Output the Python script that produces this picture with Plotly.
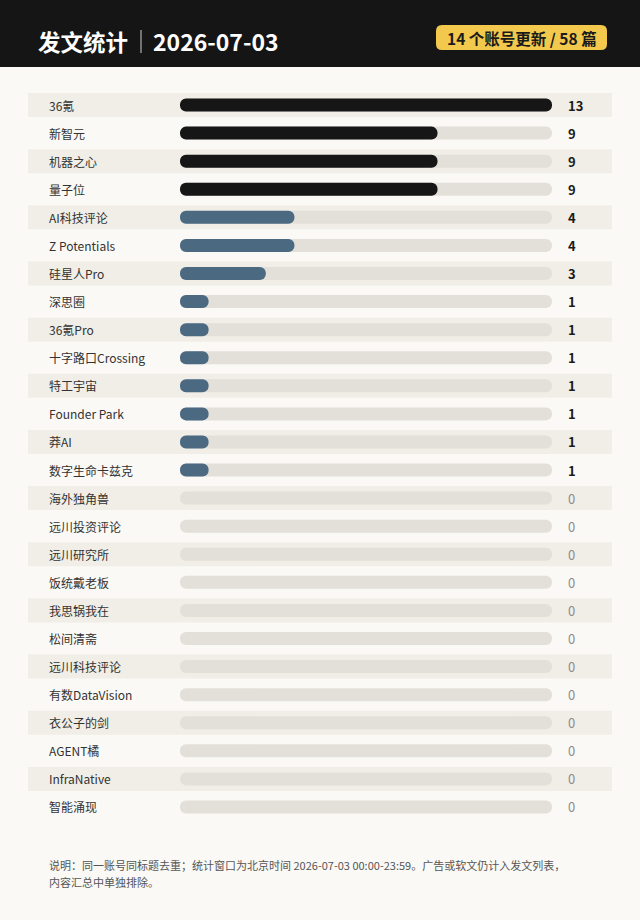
import plotly.graph_objects as go

# ---------------- data ----------------
accounts = ["36氪", "新智元", "机器之心", "量子位", "AI科技评论", "Z Potentials", "硅星人Pro",
            "深思圈", "36氪Pro", "十字路口Crossing", "特工宇宙", "Founder Park", "莽AI",
            "数字生命卡兹克", "海外独角兽", "远川投资评论", "远川研究所", "饭统戴老板",
            "我思锅我在", "松间清斋", "远川科技评论", "有数DataVision", "衣公子的剑",
            "AGENT橘", "InfraNative", "智能涌现"]
posts = [13, 9, 9, 9, 4, 4, 3, 1, 1, 1, 1, 1, 1, 1,
         0, 0, 0, 0, 0, 0, 0, 0, 0, 0, 0, 0]
title_text = "发文统计"
date_text = "2026-07-03"
note_lines = ["说明：同一账号同标题去重；统计窗口为北京时间 2026-07-03 00:00-23:59。广告或软文仍计入发文列表，",
              "内容汇总中单独排除。"]

# ---------------- style ----------------
W, H = 640, 920
BG = "#faf9f6"
STRIPE = "#f0eee6"
TRACK = "#e3e0d9"
DARK = "#161616"
BLUE = "#4b6a82"
FONT = "Noto Sans CJK SC"

def X(px):
    return px / W

def Y(py):
    return 1 - py / H

n = len(accounts)
vmax = max(posts)
n_active = sum(1 for v in posts if v > 0)
total = sum(posts)

bar_px = 13.0
x0_px, x1_px = 180.0, 552.0
row_top_px, row_bot_px = 91.0, 821.0
pitch_px = (row_bot_px - row_top_px) / n
bar_w = bar_px / pitch_px

ys = list(range(n))
bar_colors = [DARK if v >= 5 else BLUE for v in posts]

fig = go.Figure()

# track bars (full scale); explicit base -> both ends rounded
fig.add_trace(go.Bar(
    y=ys, x=[vmax] * n, base=[0] * n, orientation="h",
    width=bar_w, marker=dict(color=TRACK, cornerradius=bar_px / 2, line=dict(width=0)),
    hoverinfo="skip", showlegend=False))

# value bars
act_y = [y for y, v in zip(ys, posts) if v > 0]
act_v = [v for v in posts if v > 0]
act_c = [c for c, v in zip(bar_colors, posts) if v > 0]
fig.add_trace(go.Bar(
    y=act_y, x=act_v, base=[0] * len(act_v), orientation="h",
    width=bar_w, marker=dict(color=act_c, cornerradius=bar_px / 2, line=dict(width=0)),
    hoverinfo="skip", showlegend=False))

shapes = []
annotations = []

# header band
shapes.append(dict(type="rect", xref="paper", yref="paper", x0=0, x1=1, y0=Y(67), y1=1,
                   fillcolor="#151515", line=dict(width=0), layer="below"))
# separator in title
shapes.append(dict(type="line", xref="paper", yref="paper", x0=X(141), x1=X(141), y0=Y(30), y1=Y(53),
                   line=dict(color="#cfcfcf", width=1)))
# badge (rounded rect)
bx0, bx1, by0, by1, rr = 436, 607, 25, 50, 6
path = (f"M {X(bx0+rr)},{Y(by0)} L {X(bx1-rr)},{Y(by0)} "
        f"Q {X(bx1)},{Y(by0)} {X(bx1)},{Y(by0+rr)} L {X(bx1)},{Y(by1-rr)} "
        f"Q {X(bx1)},{Y(by1)} {X(bx1-rr)},{Y(by1)} L {X(bx0+rr)},{Y(by1)} "
        f"Q {X(bx0)},{Y(by1)} {X(bx0)},{Y(by1-rr)} L {X(bx0)},{Y(by0+rr)} "
        f"Q {X(bx0)},{Y(by0)} {X(bx0+rr)},{Y(by0)} Z")
shapes.append(dict(type="path", xref="paper", yref="paper", path=path,
                   fillcolor="#f2c94c", line=dict(width=0)))

# row stripes
for i in range(0, n, 2):
    shapes.append(dict(type="rect", xref="paper", yref="y", x0=X(28), x1=X(612),
                       y0=i - 12 / pitch_px, y1=i + 12 / pitch_px,
                       fillcolor=STRIPE, line=dict(width=0), layer="below"))

# header texts
annotations.append(dict(xref="paper", yref="paper", x=X(36), y=Y(41), xanchor="left", yanchor="middle",
                        text=f"<b>{title_text}</b>", showarrow=False,
                        font=dict(family=FONT, size=22.5, color="#ffffff")))
annotations.append(dict(xref="paper", yref="paper", x=X(151), y=Y(41), xanchor="left", yanchor="middle",
                        text=f"<b>{date_text}</b>", showarrow=False,
                        font=dict(family=FONT, size=23, color="#ffffff")))
annotations.append(dict(xref="paper", yref="paper", x=X((bx0 + bx1) / 2), y=Y(37.5), xanchor="center",
                        yanchor="middle", text=f"<b>{n_active} 个账号更新 / {total} 篇</b>", showarrow=False,
                        font=dict(family=FONT, size=15.5, color="#1a1a1a")))

# row labels and values
for i, (name, v) in enumerate(zip(accounts, posts)):
    annotations.append(dict(xref="paper", yref="y", x=X(47), y=i, xanchor="left", yanchor="middle",
                            text=name, showarrow=False,
                            font=dict(family=FONT, size=12, color="#333333")))
    annotations.append(dict(xref="paper", yref="y", x=X(566), y=i, xanchor="left", yanchor="middle",
                            text=(f"<b>{v}</b>" if v > 0 else str(v)), showarrow=False,
                            font=dict(family=FONT, size=13, color=("#1a1a1a" if v > 0 else "#8c8c8c"))))

# footer note
for k, line in enumerate(note_lines):
    annotations.append(dict(xref="paper", yref="paper", x=X(47), y=Y(865 + 17 * k), xanchor="left",
                            yanchor="middle", text=line, showarrow=False,
                            font=dict(family=FONT, size=11, color="#555555")))

fig.update_layout(
    width=W, height=H, margin=dict(l=0, r=0, t=0, b=0),
    paper_bgcolor=BG, plot_bgcolor="rgba(0,0,0,0)",
    barmode="overlay", showlegend=False, hovermode=False,
    xaxis=dict(domain=[X(x0_px), X(x1_px)], range=[0, vmax], visible=False, fixedrange=True),
    yaxis=dict(domain=[Y(row_bot_px), Y(row_top_px)], range=[n - 0.5, -0.5], visible=False, fixedrange=True),
    shapes=shapes, annotations=annotations,
)

fig.write_html("out.html", config={"displayModeBar": False})
